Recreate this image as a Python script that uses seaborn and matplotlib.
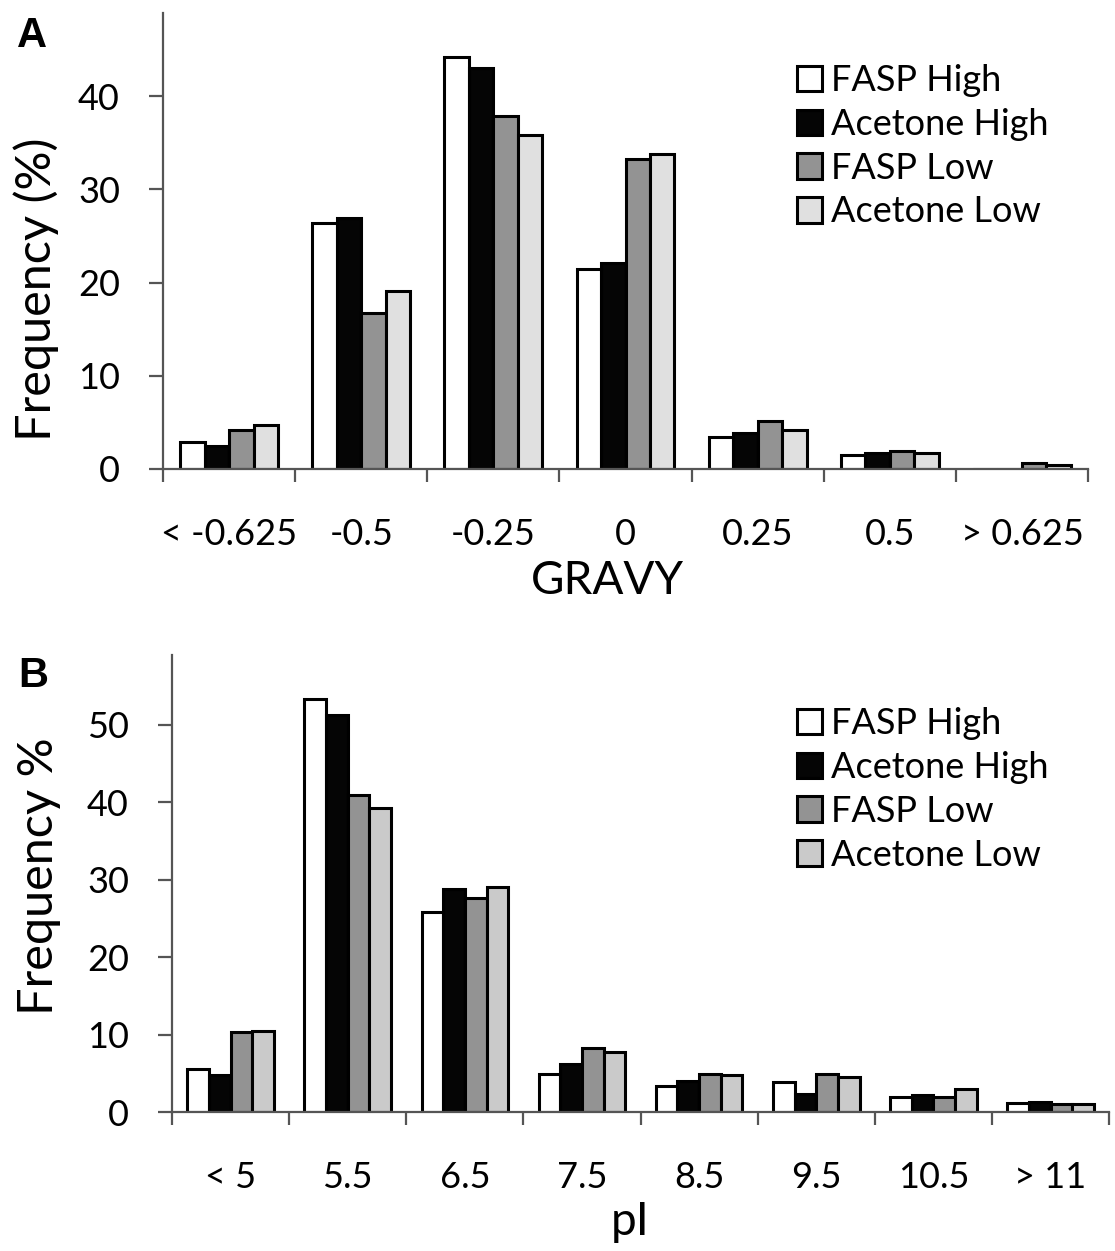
import numpy as np
import pandas as pd
import seaborn as sns
import matplotlib
matplotlib.use("Agg")
import matplotlib.pyplot as plt
import matplotlib.ticker as ticker

sns.set_theme(style="ticks")
plt.rcParams.update(
    {
        "font.family": ["Lato", "DejaVu Sans"],
        "axes.edgecolor": "#555555",
        "xtick.color": "#555555",
        "ytick.color": "#555555",
        "xtick.labelcolor": "black",
        "ytick.labelcolor": "black",
        "text.color": "black",
        "axes.labelcolor": "black",
    }
)

series = ["FASP High", "Acetone High", "FASP Low", "Acetone Low"]

# panel A: GRAVY distribution
gravy_bins = ["< -0.625", "-0.5", "-0.25", "0", "0.25", "0.5", "> 0.625"]
gravy_fasp_high = [2.9, 26.4, 44.2, 21.4, 3.4, 1.5, 0.0]
gravy_acetone_high = [2.5, 26.9, 43.0, 22.1, 3.9, 1.7, 0.0]
gravy_fasp_low = [4.2, 16.7, 37.9, 33.2, 5.2, 1.9, 0.6]
gravy_acetone_low = [4.7, 19.1, 35.8, 33.8, 4.2, 1.7, 0.4]

# panel B: pI distribution
pi_bins = ["< 5", "5.5", "6.5", "7.5", "8.5", "9.5", "10.5", "> 11"]
pi_fasp_high = [5.5, 53.3, 25.8, 4.9, 3.4, 3.9, 2.0, 1.1]
pi_acetone_high = [4.8, 51.3, 28.8, 6.2, 4.0, 2.3, 2.2, 1.3]
pi_fasp_low = [10.3, 40.9, 27.6, 8.3, 4.9, 4.9, 2.0, 1.0]
pi_acetone_low = [10.5, 39.2, 29.1, 7.8, 4.8, 4.5, 3.0, 1.0]


def long_df(bins, cols):
    rows = []
    for name, vals in zip(series, cols):
        for b, v in zip(bins, vals):
            rows.append({"bin": b, "series": name, "freq": v})
    return pd.DataFrame(rows)


def panel(ax, df, bins, palette, ylim, yticks, ylabel, xlabel,
          legend_anchor, ylabel_xy, xlabel_xy):
    sns.barplot(
        data=df,
        x="bin",
        y="freq",
        hue="series",
        order=bins,
        hue_order=series,
        palette=palette,
        width=0.74,
        gap=0,
        edgecolor="black",
        linewidth=2.2,
        saturation=1,
        errorbar=None,
        ax=ax,
    )
    ax.set_xlim(-0.5, len(bins) - 0.5)
    ax.set_ylim(*ylim)
    ax.set_yticks(yticks)
    sns.despine(ax=ax)
    for side in ["left", "bottom"]:
        ax.spines[side].set_linewidth(1.6)
    ax.xaxis.set_minor_locator(ticker.FixedLocator(np.arange(-0.5, len(bins), 1.0)))
    ax.tick_params(axis="x", which="major", length=0, pad=35, labelsize=26)
    ax.tick_params(axis="x", which="minor", length=9.5, width=1.6, direction="out")
    ax.tick_params(axis="y", length=10, width=1.6, pad=21, labelsize=26)
    ax.set_ylabel(ylabel, fontsize=35)
    ax.yaxis.set_label_coords(*ylabel_xy)
    ax.set_xlabel(xlabel, fontsize=33)
    ax.xaxis.set_label_coords(*xlabel_xy)
    leg = ax.legend(
        loc="upper left",
        bbox_to_anchor=legend_anchor,
        bbox_transform=ax.figure.transFigure,
        frameon=False,
        fontsize=26,
        handlelength=0.7,
        handleheight=0.7,
        handletextpad=0.25,
        labelspacing=0.3,
        borderaxespad=0,
        borderpad=0,
    )
    for h in leg.legend_handles:
        h.set_edgecolor("black")
        h.set_linewidth(2.2)


fig = plt.figure(figsize=(11.15, 12.51), dpi=100)
ax_a = fig.add_axes([0.1462, 0.6251, 0.8296, 0.3645])
ax_b = fig.add_axes([0.1543, 0.1111, 0.8404, 0.3653])

df_a = long_df(gravy_bins, [gravy_fasp_high, gravy_acetone_high, gravy_fasp_low, gravy_acetone_low])
df_b = long_df(pi_bins, [pi_fasp_high, pi_acetone_high, pi_fasp_low, pi_acetone_low])

panel(ax_a, df_a, gravy_bins, ["#ffffff", "#050505", "#939393", "#e0e0e0"],
      (0, 48.9), [0, 10, 20, 30, 40], "Frequency (%)", "GRAVY",
      (797 / 1115, 1 - 64 / 1251), (-0.112, 0.395), (0.48, -0.2))
panel(ax_b, df_b, pi_bins, ["#ffffff", "#050505", "#939393", "#cacaca"],
      (0, 59), [0, 10, 20, 30, 40, 50], "Frequency %", "pI",
      (797 / 1115, 1 - 707 / 1251), (-0.118, 0.515), (0.489, -0.195))

fig.text(17 / 1115, 1 - 47 / 1251, "A", fontsize=30, fontweight="bold",
         family="Liberation Sans", va="baseline")
fig.text(18 / 1115, 1 - 687 / 1251, "B", fontsize=30, fontweight="bold",
         family="Liberation Sans", va="baseline")

fig.savefig("out.png", dpi=100)
